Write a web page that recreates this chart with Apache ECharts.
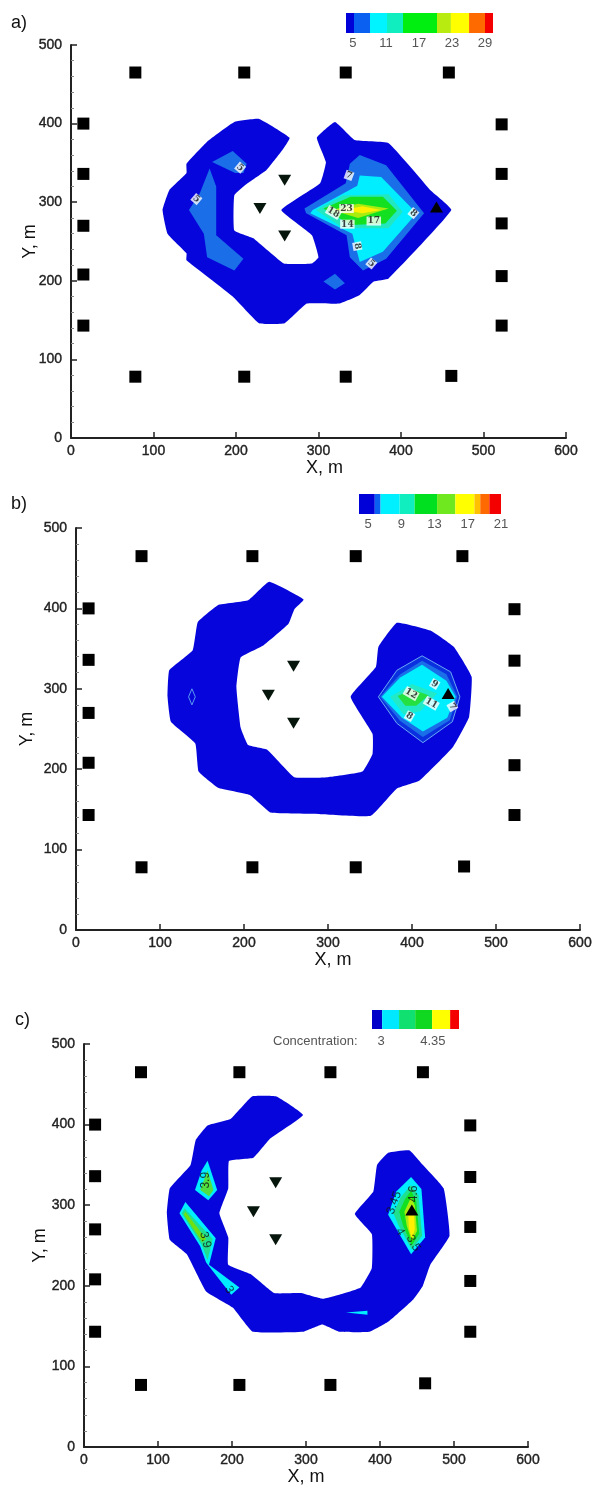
<!DOCTYPE html>
<html><head><meta charset="utf-8">
<style>html,body{margin:0;padding:0;background:#fff}#c{width:597px;height:1485px;filter:blur(0.5px)}</style>
<script src="https://cdn.jsdelivr.net/npm/echarts@6/dist/echarts.min.js"></script>
</head><body><div id="c"></div>
<script>
const triDown=[[259,328],[229,292],[259,257]];
const triUp=[[443,294]];
const sqA=[[78,465],[210,465],[333,465],[458,465],[15,400],[15,336],[15,270],[15,208],[15,143],[522,399],[522,336],[522,273],[522,206],[522,143],[78,78],[210,78],[333,78],[461,79]];
const sqB=[[78,465],[210,465],[333,465],[460,465],[15,400],[15,336],[15,270],[15,208],[15,143],[522,399],[522,335],[522,273],[522,205],[522,143],[78,78],[210,78],[333,78],[462,79]];
const sqC=[[77,465],[210,465],[333,465],[458,465],[15,400],[15,336],[15,270],[15,208],[15,143],[522,399],[522,335],[522,273],[522,206],[522,143],[77,77],[210,77],[333,77],[461,79]];

const DARK='#0606dc',BLUE='#1a6ee8',CYAN='#00eeff',TEAL='#22e8c0',GREEN='#12e020',LIME='#a8ec10',YEL='#fff000';

const aMain=[[265,382],[228,406],[198,402],[165,377],[140,349],[140,337],[119,315],[111,290],[117,260],[140,235],[140,226],[196,180],[228,146],[259,146],[286,171],[325,171],[350,182],[367,199],[385,203],[461,290],[436,315],[385,375],[344,379],[320,402],[298,382],[309,351],[302,324],[255,290],[292,258],[300,230],[292,222],[258,222],[221,254],[198,264],[198,309],[214,324],[237,341],[256,366]];
const aLeft=[[168,343],[176,320],[176,258],[209,228],[198,213],[165,230],[161,260],[143,290],[156,311]];
const aUpper=[[171,351],[196,365],[213,349],[209,337],[199,337]];
const aDiamond=[[320,209],[332,197],[320,189],[306,199]];
const aRight=[[350,360],[382,347],[428,286],[382,228],[354,213],[338,230],[334,258],[285,286],[283,292],[333,324],[338,349]];
const aCyan=[[350,334],[376,332],[419,286],[378,237],[350,224],[341,260],[290,286],[293,290],[347,321]];
const aTeal=[[297,290],[330,309],[385,310],[402,288],[385,267],[330,267]];
const aGreen=[[306,292],[339,307],[378,307],[395,289],[381,273],[339,271]];
const aLime=[[316,290],[348,298],[385,292],[348,280]];
const aYellow=[[330,290],[353,295],[376,290],[353,286]];
const aPolys=[aMain,aLeft,aUpper,aDiamond,aRight,aCyan,aTeal,aGreen,aLime,aYellow];
const aColors=[DARK,BLUE,BLUE,BLUE,BLUE,CYAN,TEAL,GREEN,LIME,YEL];
const aLabels=[[205,344,'5',-40],[152,304,'5',-40],[337,334,'7',-20],[415,286,'8',-40],[347,244,'8',-80],[364,222,'5',-40],[318,287,'18',-30],[334,292,'23',0],[335,272,'14',0],[367,276,'17',0]];

const bMain=[[271,411],[230,433],[205,410],[169,404],[145,383],[139,348],[111,323],[109,290],[113,259],[142,232],[146,197],[169,177],[207,168],[232,146],[291,144],[351,142],[382,176],[409,186],[449,228],[468,265],[471,315],[450,352],[423,372],[382,382],[360,352],[357,327],[327,290],[353,244],[353,219],[341,197],[300,190],[260,190],[228,224],[205,230],[196,252],[191,302],[196,339],[223,354],[253,381],[260,399]];
const bOuter=[[412,341],[446,321],[457,290],[448,259],[413,233],[382,257],[360,290],[382,323]];
const bBlue=[[412,335],[441,318],[454,290],[445,261],[413,240],[386,260],[362,290],[386,318]];
const bCyan=[[412,330],[441,310],[452,290],[442,264],[413,247],[388,264],[364,290],[386,314]];
const bTeal=[[374,290],[400,306],[430,294],[410,272],[390,268]];
const bGreen=[[383,291],[400,299],[420,292],[405,279],[392,279]];
const bPolys=[bMain,bOuter,bBlue,bCyan,bTeal,bGreen];
const bColors=[DARK,'#0a30e0',BLUE,CYAN,'#22eac8','#24e040'];
const bDiamond=[[138,300],[142,290],[138,280],[134,290]];
const bLabels=[[427,306,'9',-30],[399,294,'12',-30],[423,282,'11',-30],[448,278,'7',-60],[397,266,'8',-30]];

const cMain=[[296,412],[260,435],[227,435],[198,407],[167,399],[151,381],[144,350],[116,321],[112,290],[116,257],[139,239],[165,193],[201,173],[228,143],[296,143],[322,152],[345,143],[386,143],[412,156],[445,183],[458,200],[468,226],[494,262],[486,321],[458,350],[440,368],[411,365],[396,350],[391,317],[366,289],[389,264],[389,222],[374,198],[345,189],[322,184],[293,191],[257,191],[226,214],[195,226],[195,260],[183,290],[195,321],[196,355],[229,359],[252,383]];
const cUpper=[[167,355],[180,319],[168,306],[150,319],[159,343]];
const cUpperIn=[[167,343],[175,319],[169,311],[157,319]];
const cLower=[[137,304],[178,259],[169,226],[210,198],[199,189],[165,229],[157,249],[129,290]];
const cLowerTeal=[[136,296],[174,258],[167,232],[159,251],[132,290]];
const cLowerIn=[[137,292],[165,258],[160,254],[135,288]];
const cSliver=[[354,167],[383,169],[383,164]];
const cRight=[[442,335],[456,320],[461,260],[442,239],[411,288],[422,317]];
const cRight1=[[442,325],[452,312],[457,262],[443,245],[425,275],[418,290],[428,310]];
const cRight2=[[442,318],[449,305],[453,265],[443,250],[431,275],[426,292],[434,308]];
const cRight3=[[442,310],[447,300],[450,268],[443,255],[436,275],[433,292]];
const cRight4=[[442,298],[446,290],[447,270],[443,258],[439,272],[438,290]];
const cPolys=[cMain,cUpper,cUpperIn,cLower,cLowerTeal,cLowerIn,cSliver,cRight,cRight1,cRight2,cRight3,cRight4];
const cColors=[DARK,CYAN,'#50e040',CYAN,'#20e090','#70e010',CYAN,CYAN,'#20e090',GREEN,LIME,YEL];
const cLabels=[[165,331,'3.9',90],[164,257,'3.9',-75],[196,195,'3',-60],[445,314,'4.6',90],[419,303,'3.45',70],[427,267,'4',-60],[445,253,'3.5',-60]];

const barA=[3.73,5.18,8.09,11.18,14.09,20.27,22.8,26.1,29,30.45];
const barAColors=['#0000d8','#0a60f0','#00f4ff','#10eec0','#00ee10','#b8ec10','#ffff00','#ff6a00','#f40000'];
const barATicks=[5,11,17,23,29];
const barB=[3.9,5.8,6.5,8.8,10.6,13.3,15.5,17.8,18.5,19.6,21.0];
const barBColors=['#0000d8','#0a60f0','#00f0ff','#10eec0','#00e020','#70e820','#ffff00','#ffc000','#ff6a00','#f40000'];
const barBTicks=[5,9,13,17,21];
const barC=[2.766,3.03,3.47,3.89,4.33,4.8,5.03];
const barCColors=['#0000c8','#00e8ff','#10e070','#10d820','#ffff00','#f40000'];
const barCTicks=[3,4.35];

const panels=[
 {l:71,r:31,t:45,b:1047,sq:sqA,polys:aPolys,cols:aColors,labels:aLabels,white:true,gapY:32,xPad:[0,0,0,12],nameGap:21},
 {l:76,r:17,t:528,b:555,sq:sqB,polys:bPolys,cols:bColors,labels:bLabels,white:true,gapY:40,xPad:[0,0,0,10],nameGap:21},
 {l:84,r:69,t:1044,b:38,sq:sqC,polys:cPolys,cols:cColors,labels:cLabels,white:false,gapY:35,xPad:[0,0,0,0],nameGap:21}
];
const bars=[
 {l:346,w:147,t:13,h:20,e:barA,c:barAColors,tk:barATicks,m:4},
 {l:359,w:142,t:494,h:20,e:barB,c:barBColors,tk:barBTicks,m:4},
 {l:372,w:87,t:1010,h:19,e:barC,c:barCColors,tk:barCTicks,m:6}
];
const FONT='"Liberation Sans",Arial,sans-serif';
const grid=[],xAxis=[],yAxis=[],series=[];
const tickText={fontFamily:FONT,fontSize:14,color:'#222',textBorderColor:'#222',textBorderWidth:0.4};
panels.forEach((p,i)=>{
 grid.push({left:p.l,right:p.r,top:p.t,bottom:p.b,containLabel:false,outerBoundsMode:'none'});
 xAxis.push({gridIndex:i,type:'value',min:0,max:600,interval:100,splitLine:{show:false},name:'X, m',nameLocation:'middle',nameGap:p.nameGap,nameMoveOverlap:false,
  nameTextStyle:{fontFamily:FONT,fontSize:18,color:'#111',padding:p.xPad},
  axisLine:{onZero:false,lineStyle:{color:'#222',width:2}},axisTick:{inside:true,length:6,lineStyle:{color:'#222',width:1.5}},
  axisLabel:Object.assign({margin:6},tickText)});
 yAxis.push({gridIndex:i,type:'value',min:0,max:500,interval:100,splitLine:{show:false},name:'Y, m',nameLocation:'middle',nameGap:p.gapY,nameMoveOverlap:false,
  nameTextStyle:{fontFamily:FONT,fontSize:18,color:'#111'},
  axisLine:{onZero:false,lineStyle:{color:'#222',width:2}},axisTick:{inside:true,length:6,lineStyle:{color:'#222',width:1.5}},
  minorTick:{show:true,splitNumber:5,length:3,lineStyle:{color:'#888',width:1}},
  axisLabel:Object.assign({margin:9},tickText)});
 series.push({type:'custom',xAxisIndex:i,yAxisIndex:i,z:2,silent:true,clip:true,
  data:p.polys.map(q=>q[0]),encode:{x:0,y:1},
  renderItem:(params,api)=>({type:'polygon',shape:{points:p.polys[params.dataIndex].map(v=>api.coord(v)),smooth:params.dataIndex===0?0.1:0},
   style:{fill:p.cols[params.dataIndex]}})});
 if(i===1){
  series.push({type:'custom',xAxisIndex:i,yAxisIndex:i,z:3,silent:true,data:[bDiamond[0]],encode:{x:0,y:1},
   renderItem:(params,api)=>({type:'polygon',shape:{points:bDiamond.map(v=>api.coord(v))},style:{fill:'none',stroke:'#5a9af0',lineWidth:1}})});
  series.push({type:'custom',xAxisIndex:i,yAxisIndex:i,z:3,silent:true,data:[bOuter[0]],encode:{x:0,y:1},
   renderItem:(params,api)=>({type:'polygon',shape:{points:bOuter.map(v=>api.coord(v))},style:{fill:'none',stroke:'#6aa8f4',lineWidth:1}})});
 }
 series.push({type:'scatter',xAxisIndex:i,yAxisIndex:i,z:5,silent:true,symbol:'rect',symbolSize:12,itemStyle:{color:'#000',opacity:1},data:p.sq});
 series.push({type:'scatter',xAxisIndex:i,yAxisIndex:i,z:5,silent:true,symbol:'triangle',symbolRotate:180,symbolSize:[13,11],itemStyle:{color:'#06160c',opacity:1},data:triDown});
 series.push({type:'scatter',xAxisIndex:i,yAxisIndex:i,z:5,silent:true,symbol:'triangle',symbolSize:[13,11],itemStyle:{color:'#000',opacity:1},data:triUp});
 series.push({type:'scatter',xAxisIndex:i,yAxisIndex:i,z:6,silent:true,symbolSize:0,
  data:p.labels.map(d=>({value:[d[0],d[1]],label:{formatter:d[2],rotate:d[3]||0}})),
  label:{show:true,position:'inside',fontFamily:p.white?'"DejaVu Serif",serif':FONT,fontWeight:p.white?'bold':'normal',fontSize:p.white?9:12,color:'#111',
   backgroundColor:p.white?'#fff':'transparent',padding:p.white?[0,1]:0}});
});
bars.forEach((b,j)=>{
 const i=j+3,tks=b.tk;
 grid.push({left:b.l,width:b.w,top:b.t,height:b.h,outerBoundsMode:'none'});
 xAxis.push({gridIndex:i,type:'value',min:b.e[0],max:b.e[b.e.length-1],splitLine:{show:false},
  axisLine:{show:false},axisTick:{show:false},
  axisLabel:{customValues:tks,fontFamily:FONT,fontSize:13,color:'#555',margin:b.m,hideOverlap:false,showMinLabel:true,showMaxLabel:true}});
 yAxis.push({gridIndex:i,type:'value',min:0,max:1,show:false});
 series.push({type:'custom',xAxisIndex:i,yAxisIndex:i,z:2,silent:true,
  data:b.c.map((c,k)=>[b.e[k],b.e[k+1]]),encode:{x:[0,1]},
  renderItem:(params,api)=>{
   const a=api.coord([api.value(0),0]),d=api.coord([api.value(1),1]);
   return {type:'rect',shape:{x:a[0],y:d[1],width:d[0]-a[0],height:a[1]-d[1]},style:{fill:b.c[params.dataIndex]}};
  }});
});
const chart=echarts.init(document.getElementById('c'));
const letter={fontFamily:FONT,fontSize:18,fontWeight:'normal',color:'#111'};
chart.setOption({animation:false,backgroundColor:'#fff',grid,xAxis,yAxis,series,
 title:[
  {text:'a)',left:6,top:9,textStyle:letter},
  {text:'b)',left:6,top:490,textStyle:letter},
  {text:'c)',left:10,top:1006,textStyle:letter}
 ],
 graphic:[{type:'text',left:273,top:1035,silent:true,style:{text:'Concentration:',fontFamily:FONT,fontSize:13,fill:'#555'}}]
});
</script></body></html>
